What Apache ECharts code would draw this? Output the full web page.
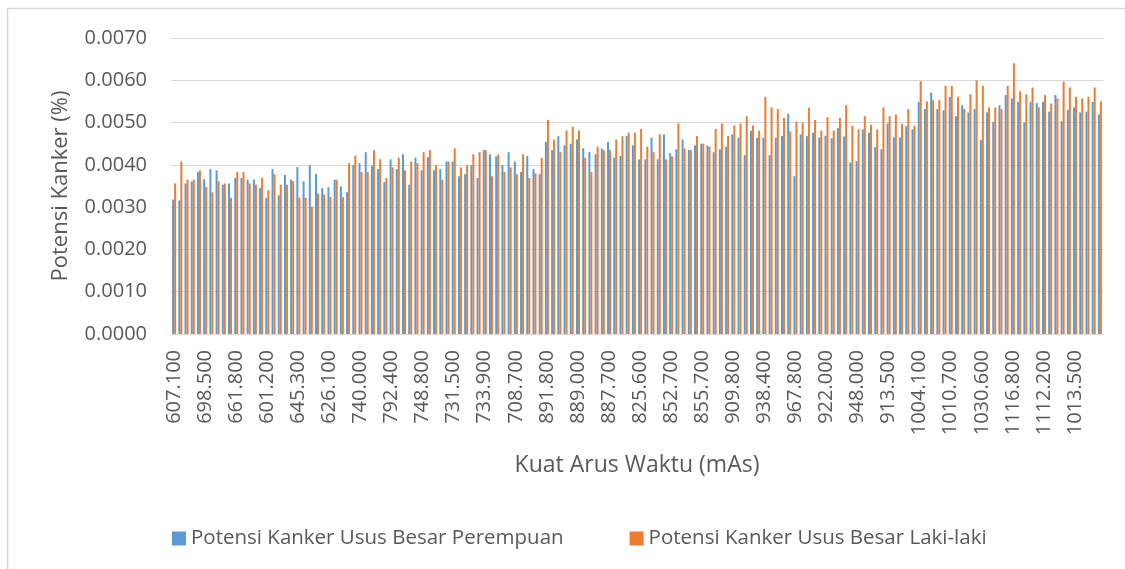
<!DOCTYPE html>
<html><head><meta charset="utf-8">
<script src="https://cdn.jsdelivr.net/npm/echarts@6/dist/echarts.min.js"></script>
<style>html,body{margin:0;padding:0;background:#fff}#c{width:1125px;height:569px}</style>
</head><body><div id="c"></div>
<script>
// Tick labels shown on the x axis (every 5th category)
const tickLabels = ['607.100','698.500','661.800','601.200','645.300','626.100','740.000','792.400','748.800','731.500',
  '733.900','708.700','891.800','889.000','887.700','825.600','852.700','855.700','909.800','938.400',
  '967.800','922.000','948.000','913.500','1004.100','1010.700','1030.600','1116.800','1112.200','1013.500'];

// Potensi Kanker Usus Besar Perempuan (%)
const female = [
  0.00318,0.00316,0.00356,0.00361,0.00383,0.00366,0.00390,0.00387,0.00353,0.00356,
  0.00369,0.00369,0.00365,0.00365,0.00345,0.00322,0.00390,0.00328,0.00376,0.00365,
  0.00395,0.00361,0.00399,0.00378,0.00345,0.00347,0.00365,0.00349,0.00335,0.00399,
  0.00404,0.00430,0.00398,0.00390,0.00359,0.00413,0.00390,0.00425,0.00353,0.00417,
  0.00387,0.00418,0.00387,0.00390,0.00408,0.00408,0.00373,0.00378,0.00399,0.00369,
  0.00435,0.00425,0.00420,0.00399,0.00430,0.00408,0.00383,0.00421,0.00390,0.00378,
  0.00454,0.00435,0.00468,0.00446,0.00450,0.00460,0.00439,0.00430,0.00425,0.00439,
  0.00454,0.00417,0.00421,0.00468,0.00446,0.00413,0.00413,0.00464,0.00413,0.00472,
  0.00428,0.00437,0.00460,0.00435,0.00446,0.00450,0.00446,0.00430,0.00437,0.00443,
  0.00472,0.00464,0.00423,0.00481,0.00464,0.00464,0.00423,0.00464,0.00468,0.00521,
  0.00373,0.00472,0.00468,0.00476,0.00465,0.00469,0.00463,0.00487,0.00467,0.00406,
  0.00409,0.00484,0.00476,0.00442,0.00437,0.00498,0.00465,0.00465,0.00492,0.00484,
  0.00549,0.00532,0.00571,0.00532,0.00529,0.00561,0.00515,0.00541,0.00524,0.00532,
  0.00459,0.00524,0.00502,0.00541,0.00565,0.00557,0.00549,0.00500,0.00549,0.00546,
  0.00549,0.00526,0.00565,0.00503,0.00530,0.00536,0.00524,0.00526,0.00549,0.00519
];

// Potensi Kanker Usus Besar Laki-laki (%)
const male = [
  0.00356,0.00408,0.00365,0.00365,0.00387,0.00348,0.00335,0.00361,0.00356,0.00322,
  0.00383,0.00383,0.00356,0.00353,0.00369,0.00340,0.00378,0.00353,0.00353,0.00361,
  0.00322,0.00322,0.00301,0.00332,0.00330,0.00324,0.00365,0.00324,0.00404,0.00422,
  0.00383,0.00383,0.00435,0.00413,0.00369,0.00394,0.00417,0.00387,0.00408,0.00404,
  0.00430,0.00435,0.00399,0.00365,0.00408,0.00439,0.00394,0.00399,0.00425,0.00430,
  0.00435,0.00373,0.00425,0.00383,0.00394,0.00378,0.00425,0.00369,0.00380,0.00417,
  0.00506,0.00460,0.00430,0.00481,0.00490,0.00481,0.00417,0.00383,0.00443,0.00435,
  0.00435,0.00460,0.00468,0.00476,0.00476,0.00485,0.00443,0.00430,0.00472,0.00413,
  0.00420,0.00498,0.00439,0.00435,0.00468,0.00450,0.00443,0.00485,0.00498,0.00468,
  0.00493,0.00498,0.00515,0.00493,0.00481,0.00561,0.00536,0.00532,0.00511,0.00479,
  0.00502,0.00500,0.00535,0.00506,0.00481,0.00513,0.00481,0.00511,0.00541,0.00493,
  0.00484,0.00515,0.00495,0.00484,0.00536,0.00515,0.00519,0.00497,0.00532,0.00493,
  0.00598,0.00550,0.00553,0.00553,0.00587,0.00587,0.00561,0.00532,0.00567,0.00600,
  0.00587,0.00536,0.00536,0.00532,0.00587,0.00640,0.00574,0.00567,0.00583,0.00536,
  0.00565,0.00545,0.00557,0.00597,0.00583,0.00561,0.00557,0.00561,0.00583,0.00550
];

// 150 categories; only every 5th label is readable in the source chart
const categories = female.map((v, i) => (i % 5 === 0 ? tickLabels[i / 5] : ''));

const FONT = 'Open Sans';
const TXT = '#595959';
const chart = echarts.init(document.getElementById('c'), null, {renderer: 'canvas'});
chart.setOption({
  animation: false,
  backgroundColor: '#ffffff',
  textStyle: {fontFamily: FONT},
  graphic: [{
    type: 'rect', silent: true, z: -1,
    shape: {x: 7.5, y: 8.5, width: 1300, height: 700},
    style: {fill: 'none', stroke: '#d9d9d9', lineWidth: 1.5}
  }],
  grid: {left: 171, right: 22, top: 38, bottom: 235, containLabel: false},
  legend: {
    left: 167, top: 523,
    icon: 'rect', itemWidth: 14, itemHeight: 14, itemGap: 66,
    textStyle: {fontFamily: FONT, fontSize: 20.5, color: TXT},
    data: ['Potensi Kanker Usus Besar Perempuan', 'Potensi Kanker Usus Besar Laki-laki']
  },
  xAxis: {
    type: 'category',
    data: categories,
    name: 'Kuat Arus Waktu (mAs)',
    nameLocation: 'middle',
    nameGap: 120,
    nameTextStyle: {fontFamily: FONT, fontSize: 23, color: TXT},
    axisLine: {show: true, lineStyle: {color: '#d9d9d9', width: 1}},
    axisTick: {show: false},
    axisLabel: {interval: 4, rotate: 90, margin: 16, fontFamily: FONT, fontSize: 20, color: TXT},
    splitLine: {show: false}
  },
  yAxis: {
    type: 'value',
    min: 0, max: 0.007, interval: 0.001,
    name: 'Potensi Kanker (%)',
    nameLocation: 'middle',
    nameGap: 99,
    nameRotate: 90,
    nameTextStyle: {fontFamily: FONT, fontSize: 22, color: TXT},
    axisLine: {show: false},
    axisTick: {show: false},
    axisLabel: {margin: 24, fontFamily: FONT, fontSize: 20, color: TXT, formatter: v => v.toFixed(4)},
    splitLine: {lineStyle: {color: '#d9d9d9', width: 1}}
  },
  series: [
    {name: 'Potensi Kanker Usus Besar Perempuan', type: 'bar', data: female, barWidth: 2, barGap: '0%',
     itemStyle: {color: '#5B9BD5'}},
    {name: 'Potensi Kanker Usus Besar Laki-laki', type: 'bar', data: male, barWidth: 2, barGap: '0%',
     itemStyle: {color: '#ED7D31'}}
  ]
});
</script></body></html>
